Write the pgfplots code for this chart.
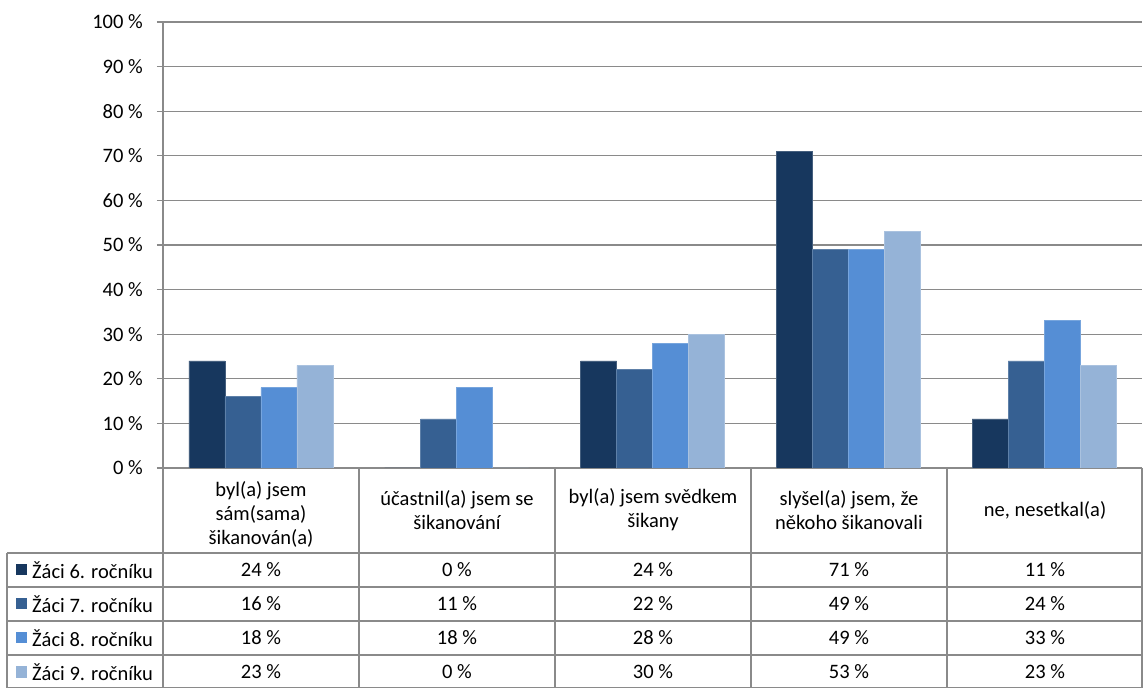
\documentclass[border=0pt]{standalone}
\usepackage{pgfplots}
\pgfplotsset{compat=1.18}
\usepackage{pgfplotstable}
\usepackage{fontspec}
\setmainfont{Carlito}

\definecolor{c6}{HTML}{17375E}
\definecolor{c7}{HTML}{366092}
\definecolor{c8}{HTML}{558ED5}
\definecolor{c9}{HTML}{95B3D7}
\definecolor{gridc}{HTML}{8A8A8A}

% categories at x = 0..4
\pgfplotstableread{
x s6 s7 s8 s9
0 24 16 18 23
1 0 11 18 0
2 24 22 28 30
3 71 49 49 53
4 11 24 33 23
}\datatable

\begin{document}
\begin{tikzpicture}[x=1pt,y=1pt,font=\fontsize{20.5}{24}\selectfont]
\useasboundingbox (0,0) rectangle (1143,688);
\begin{axis}[at={(163pt,220pt)}, anchor=south west, scale only axis,
  width=979pt, height=446pt,
  ybar=0pt, bar width=36pt,
  ymin=0, ymax=100, xmin=-0.5, xmax=4.5,
  ytick={0,10,...,100}, xtick=\empty,
  axis x line=bottom, axis y line=left,
  axis line style={-, gridc, line width=1.3pt},
  ymajorgrids, grid style={gridc, line width=1.3pt},
  tick align=outside, major tick length=6pt,
  tick style={gridc, line width=1.3pt},
  /pgf/number format/assume math mode=true,
  yticklabel={\pgfmathprintnumber{\tick}~\%},
  yticklabel style={font=\fontsize{20.5}{24}\selectfont, inner sep=0pt, xshift=-14pt},
  every axis plot/.append style={line width=0.8pt},
]
\addplot[fill=c6, draw=c6!80!white] table[x=x, y=s6] {\datatable};
\addplot[fill=c7, draw=c7!80!white] table[x=x, y=s7] {\datatable};
\addplot[fill=c8, draw=c8!80!white] table[x=x, y=s8] {\datatable};
\addplot[fill=c9, draw=c9!80!white] table[x=x, y=s9] {\datatable};
\end{axis}

% data table grid
\begin{scope}[gridc, line width=1.3pt]
\foreach \xx in {163,359,555,751,947,1142} \draw (\xx,220) -- (\xx,0);
\draw (7,135) -- (7,0);
\foreach \yy in {135,101,67,33,0.6} \draw (7,\yy) -- (1142,\yy);
\end{scope}

% category headers
\node[align=center] at (261,174) {byl(a) jsem\\sám(sama)\\šikanován(a)};
\node[align=center] at (457,178) {účastnil(a) jsem se\\šikanování};
\node[align=center] at (653,178) {byl(a) jsem svědkem\\šikany};
\node[align=center] at (849,178) {slyšel(a) jsem, že\\někoho šikanovali};
\node[align=center] at (1045,178) {ne, nesetkal(a)};

% legend keys and row labels
\foreach \s/\c/\yy/\g in {s6/c6/118/6, s7/c7/84/7, s8/c8/50/8, s9/c9/16/9} {
  \fill[\c] (16,\yy-5.5) rectangle (27,\yy+5.5);
  \node[anchor=west, inner sep=0pt] at (32,\yy) {Žáci \g. ročníku};
  \foreach \i in {0,...,4} {
    \pgfplotstablegetelem{\i}{\s}\of\datatable
    \node at (261+196*\i,\yy) {\pgfplotsretval~\%};
  }
}
\end{tikzpicture}
\end{document}
